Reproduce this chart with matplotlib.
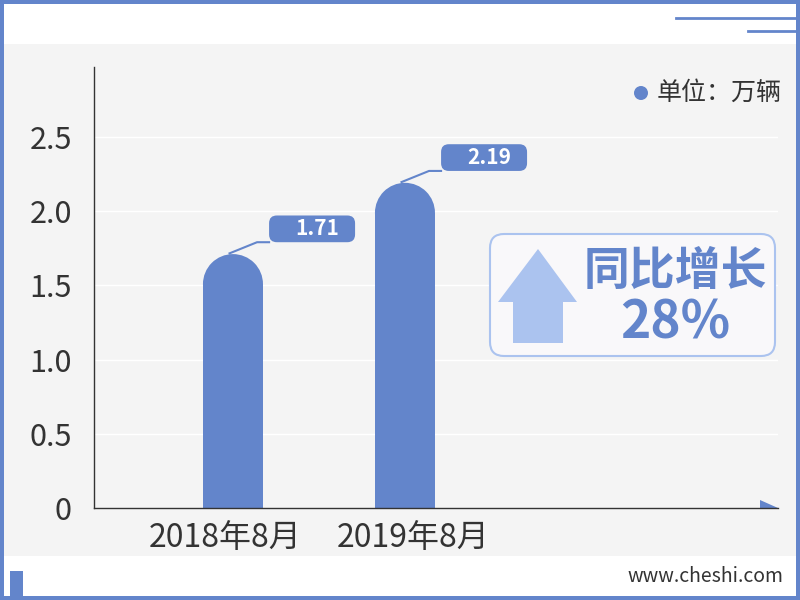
import matplotlib
matplotlib.use('Agg')
import matplotlib.pyplot as plt
from matplotlib.patches import Rectangle, Ellipse, FancyBboxPatch, Polygon, Circle

plt.rcParams['font.family'] = ['Noto Sans CJK SC', 'DejaVu Sans']

# data
categories = ['2018年8月', '2019年8月']
values = [1.71, 2.19]
value_labels = ['1.71', '2.19']
y_ticks = [0, 0.5, 1.0, 1.5, 2.0, 2.5]
y_tick_labels = ['0', '0.5', '1.0', '1.5', '2.0', '2.5']
unit_text = '单位：万辆'
growth_title = '同比增长'
growth_value = '28%'
site = 'www.cheshi.com'

blue = '#6385cb'
light_blue = '#abc3ef'
text_dark = '#333333'

W, H = 800, 600
fig = plt.figure(figsize=(8, 6), dpi=100)
fig.patch.set_facecolor('white')

# background overlay in pixel coords
bg = fig.add_axes([0, 0, 1, 1], zorder=0)
bg.set_xlim(0, W)
bg.set_ylim(H, 0)
bg.axis('off')
bg.add_patch(Rectangle((4, 44), 792, 512, color='#f4f4f4', lw=0))
# frame
bg.add_patch(Rectangle((0, 0), W, 4, color=blue, lw=0))
bg.add_patch(Rectangle((0, 596), W, 4, color=blue, lw=0))
bg.add_patch(Rectangle((0, 0), 4, H, color=blue, lw=0))
bg.add_patch(Rectangle((796, 0), 4, H, color=blue, lw=0))
bg.plot([676, 796], [18, 18], color=blue, lw=2)
bg.plot([748, 796], [31, 31], color=blue, lw=2)
bg.add_patch(Rectangle((10, 571), 13, 25, color=blue, lw=0))
bg.text(783, 576, site, ha='right', va='center', fontsize=14, color=text_dark)

# main chart
ax_l, ax_r, ax_t, ax_b = 94, 778, 67, 508
ax = fig.add_axes([ax_l / W, (H - ax_b) / H, (ax_r - ax_l) / W, (ax_b - ax_t) / H], zorder=1)
ax.patch.set_alpha(0)
xlim = (-0.808, 3.169)
ylim = (0, 2.97)
ax.set_xlim(*xlim)
ax.set_ylim(*ylim)
px_x = (ax_r - ax_l) / (xlim[1] - xlim[0])
px_y = (ax_b - ax_t) / (ylim[1] - ylim[0])

for s in ['top', 'right']:
    ax.spines[s].set_visible(False)
for s in ['left', 'bottom']:
    ax.spines[s].set_color(text_dark)
    ax.spines[s].set_linewidth(1)

xs = list(range(len(values)))
ax.set_yticks(y_ticks)
ax.set_yticklabels(y_tick_labels)
# labels sit a little apart from the bar centres in the original
ax.set_xticks([xs[0] - 0.047, xs[1] + 0.047])
ax.set_xticklabels(categories)
ax.tick_params(axis='y', length=0, pad=16, labelsize=22, labelcolor=text_dark)
ax.tick_params(axis='x', length=0, pad=10, labelsize=23, labelcolor=text_dark)
for y in y_ticks[1:]:
    ax.axhline(y, color='white', lw=1, zorder=0.5)

# arrow end of x axis
ax.add_patch(Polygon([(xlim[1] - 18 / px_x, 0), (xlim[1], 0), (xlim[1] - 18 / px_x, 8 / px_y)],
                     closed=True, color=blue, lw=0, clip_on=False))

bw = 0.349
r_y = (bw / 2 * px_x) / px_y
ax.bar(xs, [v - r_y for v in values], width=bw, color=blue, zorder=2, lw=0)
for x, v, lab in zip(xs, values, value_labels):
    ax.add_patch(Ellipse((x, v - r_y), bw, 2 * r_y, color=blue, lw=0, zorder=2))
    # value tag
    bx, by = x + 0.46, v + 0.17
    w, h = 0.5, 0.18
    ax.add_patch(FancyBboxPatch((bx - w / 2, by - h / 2), w, h,
                                boxstyle='round,pad=0,rounding_size=0.045',
                                mutation_aspect=px_x / px_y,
                                color=blue, lw=0, zorder=3))
    ax.plot([x - 0.02, x + 0.14, bx - w / 2], [v + 0.005, v + 0.08, v + 0.08],
            color=blue, lw=1.5, zorder=2.5)
    ax.text(bx + 0.03, by, lab, ha='center', va='center', color='white',
            fontsize=15, fontweight='bold', zorder=4)

# foreground overlay
fg = fig.add_axes([0, 0, 1, 1], zorder=3)
fg.set_xlim(0, W)
fg.set_ylim(H, 0)
fg.axis('off')
fg.patch.set_alpha(0)

fg.add_patch(Circle((641, 93), 7, color=blue, lw=0))
fg.text(657, 93, unit_text, ha='left', va='center', fontsize=18, color=text_dark)

fg.add_patch(FancyBboxPatch((490, 234), 285, 122,
                            boxstyle='round,pad=0,rounding_size=14',
                            facecolor='#f9f8fa', edgecolor=light_blue, lw=1.5))
fg.add_patch(Polygon([(538, 249), (577, 302), (563, 302), (563, 343), (513, 343),
                      (513, 302), (498, 302)], closed=True, color=light_blue, lw=0))
fg.text(675, 272, growth_title, ha='center', va='center', fontsize=33,
        fontweight='bold', color=blue)
fg.text(675, 323, growth_value, ha='center', va='center', fontsize=37,
        fontweight='bold', color=blue)

fig.savefig('out.png', dpi=100)
